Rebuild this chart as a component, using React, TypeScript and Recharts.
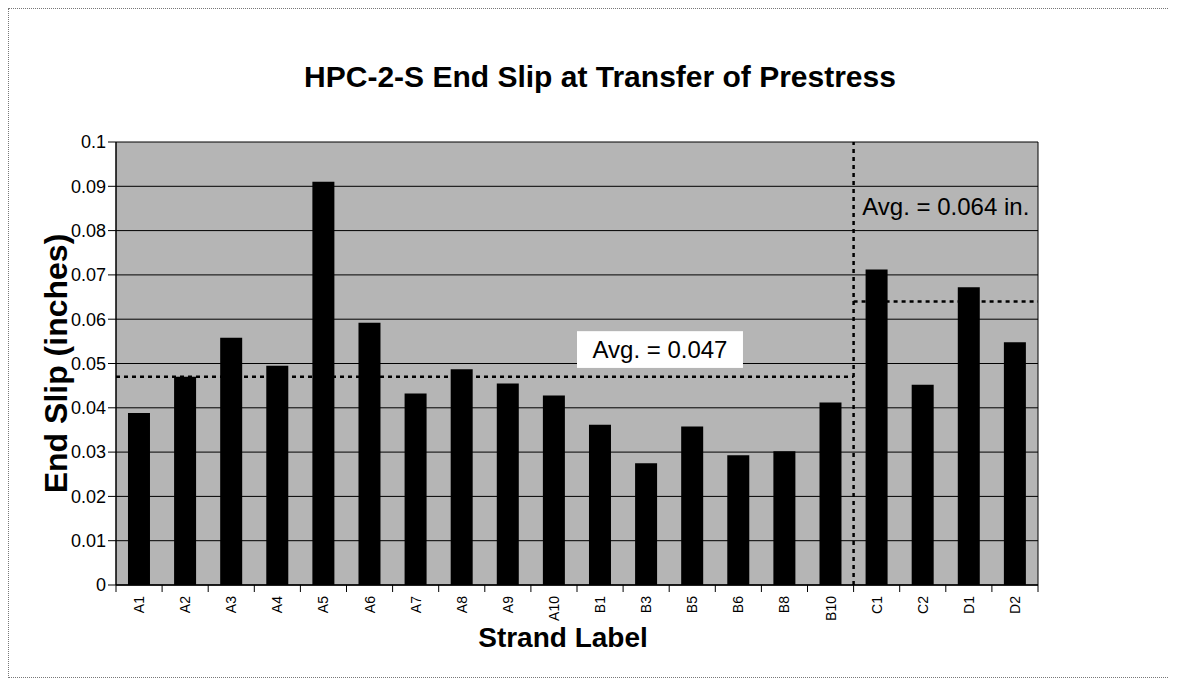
import { Bar, BarChart, CartesianGrid, ReferenceArea, ReferenceLine, XAxis, YAxis } from "recharts";

const strands = ["A1", "A2", "A3", "A4", "A5", "A6", "A7", "A8", "A9", "A10", "B1", "B3", "B5", "B6", "B8", "B10", "C1", "C2", "D1", "D2"];
const endSlip = [0.0388, 0.047, 0.0558, 0.0495, 0.091, 0.0592, 0.0432, 0.0487, 0.0455, 0.0428, 0.0362, 0.0275, 0.0358, 0.0293, 0.0302, 0.0412, 0.0712, 0.0452, 0.0672, 0.0548];
const groupAvg = [0.047, 0.064];
const avgLabels = ["Avg. = 0.047", "Avg. = 0.064 in."];
const yTicks = [0, 0.01, 0.02, 0.03, 0.04, 0.05, 0.06, 0.07, 0.08, 0.09, 0.1];

const data = strands.map((s, i) => ({ strand: s, slip: endSlip[i] }));
const firstC = strands.find((s) => s.startsWith("C"));
const lastB = strands[strands.indexOf(firstC!) - 1];
const first = strands[0];
const last = strands[strands.length - 1];

const FONT = "'Liberation Sans', Arial, sans-serif";
const W = 1160;
const H = 668;
const M = { top: 133, right: 131, left: 20, bottom: 50 };
const Y_W = 87;
const BAND = (W - M.left - Y_W - M.right) / strands.length;

const StrandTick = ({ x, y, payload, index }: any) => (
  <g>
    <line x1={x - BAND / 2} x2={x - BAND / 2} y1={y} y2={y + 7} stroke="#000" />
    {index === strands.length - 1 && <line x1={x + BAND / 2} x2={x + BAND / 2} y1={y} y2={y + 7} stroke="#000" />}
    <text
      x={x}
      y={y + 11}
      transform={`rotate(-90, ${x}, ${y + 11})`}
      textAnchor="end"
      dominantBaseline="central"
      fontSize={14}
      fontFamily={FONT}
      fill="#000"
    >
      {payload.value}
    </text>
  </g>
);

const LabelBox = (text: string, boxed: boolean) => (p: any) => {
  const w = p.width * 0.9;
  return (
    <g>
      {boxed && <rect x={p.x} y={p.y} width={w} height={p.height} fill="#fff" />}
      <text
        x={p.x + (boxed ? w : p.width) / 2}
        y={p.y + p.height / 2}
        textAnchor="middle"
        dominantBaseline="central"
        fontSize={24}
        fontFamily={FONT}
        fill="#000"
      >
        {text}
      </text>
    </g>
  );
};

const dash = { stroke: "#000", strokeWidth: 2.5, strokeDasharray: "4 4" };

const App = () => {
  return (
    <div style={{ position: "relative", width: W, height: H, border: "1px dotted #777", fontFamily: FONT }}>
      <div
        style={{
          position: "absolute",
          top: 51,
          left: 0,
          width: 1182,
          textAlign: "center",
          fontSize: 30,
          fontWeight: "bold",
          color: "#000",
        }}
      >
        HPC-2-S End Slip at Transfer of Prestress
      </div>
      <BarChart width={W} height={H} data={data} margin={M} barCategoryGap="26%">
        <CartesianGrid vertical={false} stroke="#000" fill="#b5b5b5" fillOpacity={1} />
        <XAxis
          dataKey="strand"
          interval={0}
          tick={<StrandTick />}
          tickLine={false}
          tickSize={0}
          tickMargin={0}
          axisLine={{ stroke: "#000", strokeWidth: 1.5 }}
          height={42}
          label={{
            value: "Strand Label",
            position: "bottom",
            offset: 0,
            dx: -14,
            fontSize: 28,
            fontWeight: "bold",
            fill: "#000",
          }}
        />
        <YAxis
          domain={[0, 0.1]}
          ticks={yTicks}
          tickFormatter={(v: number) => String(v)}
          tick={{ fill: "#000", fontSize: 18, fontFamily: FONT }}
          tickLine={{ stroke: "#000" }}
          tickSize={8}
          axisLine={{ stroke: "#000", strokeWidth: 1.5 }}
          width={Y_W}
          label={{
            value: "End Slip (inches)",
            angle: -90,
            position: "insideLeft",
            offset: 27,
            fontSize: 32,
            fontWeight: "bold",
            fill: "#000",
            style: { textAnchor: "middle" },
          }}
        />
        <ReferenceLine x={last} position="end" stroke="#000" />
        <Bar dataKey="slip" fill="#000" isAnimationActive={false} />
        <ReferenceLine x={firstC} position="start" {...dash} />
        <ReferenceLine
          segment={[
            { x: first, y: groupAvg[0] },
            { x: firstC, y: groupAvg[0] },
          ]}
          position="start"
          {...dash}
        />
        <ReferenceLine
          segment={[
            { x: lastB, y: groupAvg[1] },
            { x: last, y: groupAvg[1] },
          ]}
          position="end"
          {...dash}
        />
        <ReferenceArea x1="B1" x2="B6" y1={0.049} y2={0.0573} shape={LabelBox(avgLabels[0], true)} />
        <ReferenceArea x1={firstC} x2={last} y1={0.0815} y2={0.0895} shape={LabelBox(avgLabels[1], false)} />
      </BarChart>
    </div>
  );
};

export default App;
